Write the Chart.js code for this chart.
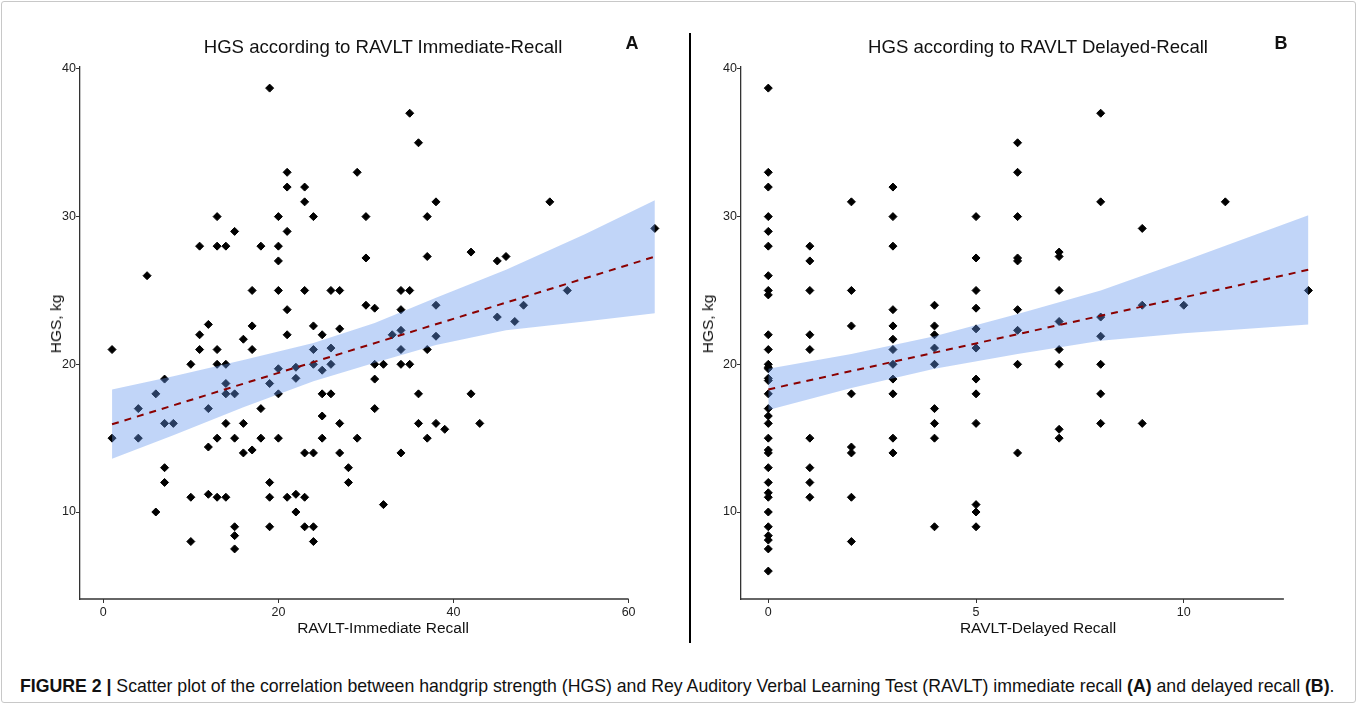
<!DOCTYPE html>
<html>
<head>
<meta charset="utf-8">
<script src="https://cdn.jsdelivr.net/npm/chart.js@4.4.0/dist/chart.umd.min.js"></script>
<style>
  body { margin: 0; background: #fff; font-family: "Liberation Sans", Arial, sans-serif; }
  #fig { position: relative; width: 1357px; height: 704px; overflow: hidden; }
  .frame { position: absolute; left: 1px; top: 1px; width: 1353px; height: 700px; border: 1px solid #c8c8c8; border-radius: 3px; }
  .panel { position: absolute; top: 0; }
  .txt { position: absolute; transform: translate(-50%, -50%); white-space: nowrap; color: #111; }
  .title { font-size: 18.6px; }
  .tag { font-size: 18px; font-weight: bold; }
  .xlab { font-size: 15.5px; }
  .ylab { font-size: 15.5px; transform: translate(-50%, -50%) rotate(-90deg); }
  .divider { position: absolute; left: 689px; top: 33px; width: 2px; height: 610px; background: #000; }
  .caption { position: absolute; left: 20px; top: 676px; font-size: 17.7px; color: #111; white-space: nowrap; }
</style>
</head>
<body>
<div id="fig">
  <div class="frame"></div>
  <div class="panel" style="left:0;"><canvas id="chartA" width="690" height="640"></canvas></div>
  <div class="panel" style="left:690px;"><canvas id="chartB" width="667" height="640"></canvas></div>
  <div class="divider"></div>

  <div class="txt title" style="left:383px; top:47px;">HGS according to RAVLT Immediate-Recall</div>
  <div class="txt tag" style="left:632px; top:43px;">A</div>
  <div class="txt title" style="left:1038px; top:47px;">HGS according to RAVLT Delayed-Recall</div>
  <div class="txt tag" style="left:1281px; top:43px;">B</div>

  <div class="txt xlab" style="left:383px; top:628px;">RAVLT-Immediate Recall</div>
  <div class="txt xlab" style="left:1038px; top:628px;">RAVLT-Delayed Recall</div>
  <div class="txt ylab" style="left:56px; top:324px;">HGS, kg</div>
  <div class="txt ylab" style="left:708px; top:324px;">HGS, kg</div>

  <div class="caption"><b>FIGURE 2 |</b> Scatter plot of the correlation between handgrip strength (HGS) and Rey Auditory Verbal Learning Test (RAVLT) immediate recall <b>(A)</b> and delayed recall <b>(B)</b>.</div>
</div>

<script>
// panel A: immediate recall vs HGS
const immRecall = [
  1, 1, 4, 4, 5, 6, 6, 7, 7, 7, 7, 8,
  10, 10, 10, 11, 11, 11, 12, 12, 12, 12,
  13, 13, 13, 13, 13, 13, 14, 14, 14, 14, 14, 14,
  15, 15, 15, 15, 15, 15, 16, 16, 16, 17, 17, 17, 17,
  18, 18, 18, 19, 19, 19, 19, 19,
  20, 20, 20, 20, 20, 20, 20, 21, 21, 21, 21, 21, 21,
  22, 22, 22, 22, 23, 23, 23, 23, 23, 23,
  24, 24, 24, 24, 24, 24, 24, 25, 25, 25, 25, 25,
  26, 26, 26, 26, 27, 27, 27, 27, 28, 28, 29, 29,
  30, 30, 30, 31, 31, 31, 31, 32, 32, 33,
  34, 34, 34, 34, 34, 34, 35, 35, 35, 36, 36, 36,
  37, 37, 37, 37, 38, 38, 38, 38, 39,
  42, 42, 43, 45, 45, 46, 47, 48, 51, 53, 63
]
const immHGS = [
  21, 15, 17, 15, 26, 18, 10, 19, 16, 13, 12, 16,
  20, 11, 8, 28, 22, 21, 22.7, 17, 14.4, 11.2,
  30, 28, 21, 20, 15, 11, 28, 20, 18.7, 18, 16, 11,
  29, 18, 15, 9, 8.4, 7.5, 21.7, 16, 14, 25, 22.6, 21, 14.2,
  28, 17, 15, 38.7, 18.7, 12, 11, 9,
  30, 28, 27, 25, 19.7, 18, 15, 33, 32, 29, 23.7, 22, 11,
  19.8, 19.05, 11.2, 10, 32, 31, 25, 14, 11, 9,
  30, 22.6, 21, 20, 14, 9, 8, 22, 19.6, 18, 16.5, 15,
  25, 21.1, 20, 18, 25, 22.4, 16, 14, 13, 12, 33, 15,
  30, 27.2, 24, 23.8, 20, 19, 17, 20, 10.5, 22,
  25, 23.7, 22.3, 21, 20, 14, 37, 25, 20, 35, 18, 16,
  30, 27.3, 21, 15, 31, 24, 21.9, 16, 15.6,
  27.6, 18, 16, 27, 23.2, 27.3, 22.9, 24, 31, 25, 29.2
]
const immFitX = [1, 63]
const immFitY = [15.94, 27.29]
const immBandX = [1, 8, 16, 24, 31, 38, 46, 55, 63]
const immBandLo = [13.6, 15.2, 17.1, 18.85, 20.1, 21.3, 22.3, 22.9, 23.45]
const immBandHi = [18.3, 19.2, 20.3, 21.45, 22.8, 24.5, 26.4, 28.8, 31.1]
const immTicks = [0, 20, 40, 60]

// panel B: delayed recall vs HGS
const delRecall = [
  0, 0, 0, 0, 0, 0, 0, 0, 0, 0, 0, 0, 0, 0, 0, 0, 0,
  0, 0, 0, 0, 0, 0, 0, 0, 0, 0, 0, 0, 0, 0, 0, 0,
  1, 1, 1, 1, 1, 1, 1, 1, 1,
  2, 2, 2, 2, 2, 2, 2, 2,
  3, 3, 3, 3, 3, 3, 3, 3, 3, 3, 3, 3,
  4, 4, 4, 4, 4, 4, 4, 4, 4,
  5, 5, 5, 5, 5, 5, 5, 5, 5, 5, 5, 5,
  6, 6, 6, 6, 6, 6, 6, 6, 6,
  7, 7, 7, 7, 7, 7, 7, 7,
  8, 8, 8, 8, 8, 8, 8,
  9, 9, 9, 10, 11, 13
]
const delHGS = [
  38.7, 33, 32, 30, 29, 28, 26, 25, 24.7, 22, 21, 20, 19.8, 19.7, 19.05, 18.9, 18,
  17, 16.5, 16, 15, 14.2, 14, 13, 12, 11.3, 11, 10, 9, 8.4, 8.1, 7.5, 6,
  28, 27, 25, 22, 21, 15, 13, 12, 11,
  31, 25, 22.6, 18, 14.4, 14, 11, 8,
  32, 30, 28, 23.7, 22.6, 21.7, 21, 20, 19, 18, 15, 14,
  24, 22.6, 22, 21.1, 20, 17, 16, 15, 9,
  30, 27.2, 25, 23.8, 22.4, 21.1, 19, 18, 16, 10.5, 10, 9,
  35, 33, 30, 27.2, 27, 23.7, 22.3, 20, 14,
  27.6, 27.3, 25, 22.9, 21, 20, 15.6, 15,
  37, 31, 23.2, 21.9, 20, 18, 16,
  29.2, 24, 16, 24, 31, 25
]
const delFitX = [0, 13]
const delFitY = [18.3, 26.4]
const delBandX = [0, 2, 4, 6, 8, 10, 13]
const delBandLo = [16.9, 18.4, 19.7, 20.7, 21.6, 22.1, 22.7]
const delBandHi = [19.7, 20.7, 21.9, 23.4, 25.0, 27.0, 30.1]
const delTicks = [0, 5, 10]

const hgsTicks = [10, 20, 30, 40]

const FONT = '"Liberation Sans", Arial, sans-serif'
const toXY = (xs, ys) => xs.map((x, i) => ({x: x, y: ys[i]}))

// x axis line in the figure stops short of the panel edge
const axisLine = {
  id: 'axisLine',
  afterDraw(chart, args, opts) {
    const {ctx, chartArea, scales} = chart
    ctx.save()
    ctx.strokeStyle = '#333'
    ctx.lineWidth = 1.3
    ctx.beginPath()
    ctx.moveTo(chartArea.left, chartArea.bottom)
    ctx.lineTo(scales.x.getPixelForValue(opts.end), chartArea.bottom)
    ctx.stroke()
    ctx.restore()
  }
}

const makePanel = (id, p) => {
  new Chart(document.getElementById(id), {
    type: 'scatter',
    data: {
      datasets: [
        {
          type: 'line',
          data: toXY(p.fitX, p.fitY),
          borderColor: '#8b0000',
          borderWidth: 2,
          borderDash: [7, 6],
          pointRadius: 0,
          fill: false
        },
        {
          type: 'line',
          data: toXY(p.bandX, p.bandHi),
          borderColor: 'transparent',
          borderWidth: 1,
          pointRadius: 0,
          backgroundColor: 'rgba(100, 149, 237, 0.4)',
          fill: '+1'
        },
        {
          type: 'line',
          data: toXY(p.bandX, p.bandLo),
          borderColor: 'transparent',
          borderWidth: 1,
          pointRadius: 0,
          fill: false
        },
        {
          data: toXY(p.xs, p.ys),
          pointStyle: 'rectRot',
          pointRadius: 4,
          pointBorderWidth: 1,
          pointBackgroundColor: '#000',
          pointBorderColor: '#000'
        }
      ]
    },
    options: {
      responsive: false,
      animation: false,
      layout: { padding: { top: 67, right: p.padRight, left: 0, bottom: 0 } },
      plugins: {
        legend: { display: false },
        tooltip: { enabled: false },
        axisLine: { end: p.axisEnd }
      },
      scales: {
        x: {
          type: 'linear',
          min: p.xMin,
          max: p.xMax,
          afterBuildTicks: s => { s.ticks = p.xTicks.map(v => ({value: v})) },
          afterFit: s => { s.height = 41 },
          border: { display: false },
          grid: { drawOnChartArea: false, drawTicks: true, tickLength: 4, color: '#333', lineWidth: 1 },
          ticks: { color: '#222', font: { family: FONT, size: 12.5 }, padding: 2, maxRotation: 0 }
        },
        y: {
          type: 'linear',
          min: 4.11,
          max: 40.13,
          afterBuildTicks: s => { s.ticks = hgsTicks.map(v => ({value: v})) },
          afterFit: s => { s.width = p.yWidth },
          border: { display: true, color: '#333', width: 1.3 },
          grid: { drawOnChartArea: false, drawTicks: true, tickLength: 4, color: '#333', lineWidth: 1 },
          ticks: { color: '#222', font: { family: FONT, size: 12.5 }, padding: 0 }
        }
      }
    },
    plugins: [axisLine]
  })
}

makePanel('chartA', {
  xs: immRecall, ys: immHGS,
  fitX: immFitX, fitY: immFitY,
  bandX: immBandX, bandLo: immBandLo, bandHi: immBandHi,
  xTicks: immTicks, xMin: -2.66, xMax: 66.1, axisEnd: 60,
  yWidth: 80, padRight: 8
})

makePanel('chartB', {
  xs: delRecall, ys: delHGS,
  fitX: delFitX, fitY: delFitY,
  bandX: delBandX, bandLo: delBandLo, bandHi: delBandHi,
  xTicks: delTicks, xMin: -0.657, xMax: 13.64, axisEnd: 12.41,
  yWidth: 51, padRight: 22
})
</script>
</body>
</html>
